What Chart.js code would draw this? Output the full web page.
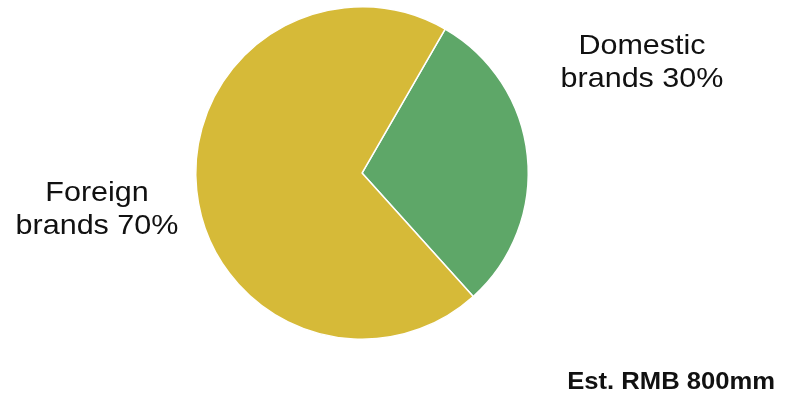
<!DOCTYPE html>
<html>
<head>
<meta charset="utf-8">
<script src="https://cdn.jsdelivr.net/npm/chart.js@4"></script>
<style>
  html, body { margin: 0; padding: 0; background: #fff; }
  #wrap { width: 785px; height: 394px; position: relative; }
</style>
</head>
<body>
<div id="wrap"><canvas id="pie"></canvas></div>
<script>
// --- Data ---
const segments = ['Domestic brands', 'Foreign brands'];
const shares = [30, 70];
const segmentColors = ['#5ea768', '#d6ba38'];
const labelLines = [['Domestic', 'brands 30%'], ['Foreign', 'brands 70%']];
const footnote = 'Est. RMB 800mm';

// label anchors: centre x and first-line baseline, per segment
const labelPos = [{ x: 642, y: 54 }, { x: 97, y: 201 }];

// draw text slightly widened around its anchor
function wideText(ctx, text, x, y, sx) {
  ctx.save();
  ctx.translate(x, y);
  ctx.scale(sx, 1);
  ctx.fillText(text, 0, 0);
  ctx.restore();
}

const outsideLabels = {
  id: 'outsideLabels',
  afterDraw(chart) {
    const ctx = chart.ctx;
    ctx.save();
    ctx.fillStyle = '#111';
    ctx.textAlign = 'center';
    ctx.textBaseline = 'alphabetic';
    ctx.font = '28px "Liberation Sans", Arial, sans-serif';
    const lh = 33;
    labelLines.forEach((lines, i) => {
      const p = labelPos[i];
      lines.forEach((t, j) => wideText(ctx, t, p.x, p.y + j * lh, 1.09));
    });
    ctx.font = 'bold 24px "Liberation Sans", Arial, sans-serif';
    ctx.textAlign = 'right';
    wideText(ctx, footnote, 775, 389, 1.067);
    ctx.restore();
  }
};

new Chart(document.getElementById('pie').getContext('2d'), {
  type: 'pie',
  data: {
    labels: segments,
    datasets: [{
      data: shares,
      backgroundColor: segmentColors,
      borderColor: '#ffffff',
      borderWidth: 1.5
    }]
  },
  options: {
    responsive: true,
    maintainAspectRatio: false,
    animation: false,
    rotation: 30,
    layout: { padding: { top: 6, bottom: 54, left: 0, right: 61 } },
    plugins: {
      legend: { display: false },
      tooltip: { enabled: false }
    }
  },
  plugins: [outsideLabels]
});
</script>
</body>
</html>
